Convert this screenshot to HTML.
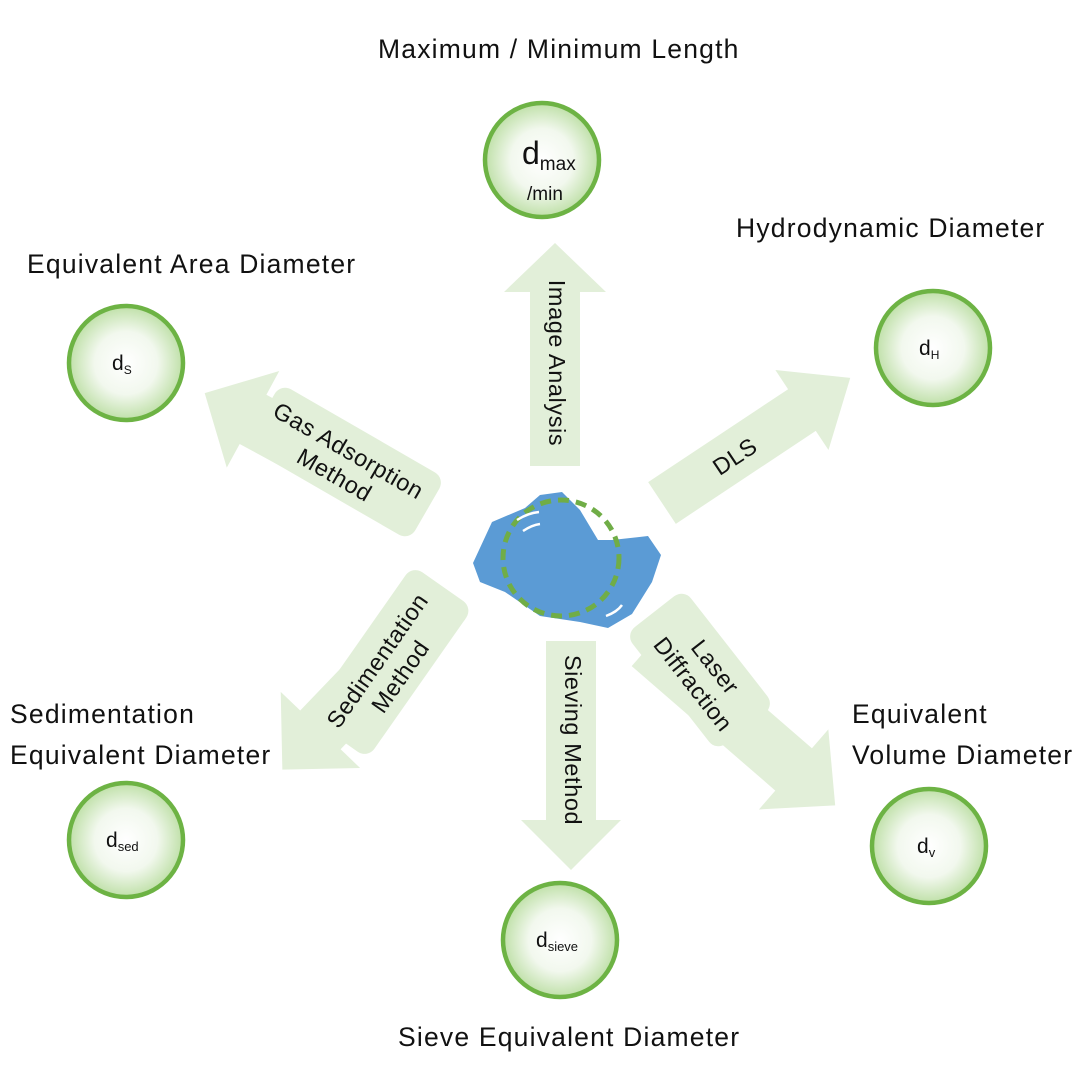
<!DOCTYPE html>
<html><head><meta charset="utf-8"><style>
html,body{margin:0;padding:0;background:#fff;}
svg{display:block;}
text{font-family:"Liberation Sans",sans-serif;fill:#111;}
</style></head><body>
<svg width="1080" height="1080" viewBox="0 0 1080 1080" xmlns="http://www.w3.org/2000/svg">
<defs>
<radialGradient id="g" cx="50%" cy="50%" r="50%">
<stop offset="0%" stop-color="#ffffff"/>
<stop offset="55%" stop-color="#f2f8ee"/>
<stop offset="100%" stop-color="#bfe0a8"/>
</radialGradient>
</defs>
<rect width="1080" height="1080" fill="#fff"/>

<g fill="#e2efd9">
<g transform="translate(555,466) rotate(-90)"><polygon points="0,-25 174,-25 174,-51 223,0 174,51 174,25 0,25"/></g>
<g transform="translate(571,641) rotate(90)"><polygon points="0,-25 179,-25 179,-50 229,0 179,50 179,25 0,25"/></g>
<g transform="translate(662,503) rotate(-33.6)"><polygon points="0,-25 168,-25 168,-48 226,0 168,48 168,25 0,25"/></g>
<g transform="translate(420,510) rotate(208.5)"><polygon points="0,-28 190,-28 190,-55 245,0 190,55 190,28 0,28"/></g>
<rect x="-95" y="-36" width="190" height="72" rx="12" transform="translate(345,462) rotate(30)"/>
<g transform="translate(445,600) rotate(133.8)"><polygon points="0,-28 180,-28 180,-55 235,0 180,55 180,28 0,28"/></g>
<rect x="-92" y="-37" width="184" height="74" rx="12" transform="translate(390,662) rotate(-55)"/>
<g transform="translate(650,645) rotate(40.9)"><polygon points="0,-28 190,-28 190,-53 245,0 190,53 190,28 0,28"/></g>
<rect x="-74" y="-37" width="148" height="74" rx="12" transform="translate(700,670) rotate(52)"/>
</g>

<g font-size="23.5" letter-spacing="0.6">
<text text-anchor="middle" dominant-baseline="middle" transform="translate(555,363) rotate(90)">Image Analysis</text>
<text text-anchor="middle" dominant-baseline="middle" transform="translate(571,740) rotate(90)">Sieving Method</text>
<text text-anchor="middle" dominant-baseline="middle" transform="translate(736,458) rotate(-33.6)">DLS</text>
<g transform="translate(342,462) rotate(30)" text-anchor="middle">
<text y="-5">Gas Adsorption</text><text y="23">Method</text></g>
<g transform="translate(388,668) rotate(-55)" text-anchor="middle">
<text y="-5">Sedimentation</text><text y="23">Method</text></g>
<g transform="translate(705,675) rotate(52)" text-anchor="middle">
<text y="-5">Laser</text><text y="23">Diffraction</text></g>
</g>

<polygon fill="#5b9bd5" points="473,563 492,522 525,508 540,495 562,492 580,510 598,540 612,540 648,536 661,555 652,582 632,614 608,628 580,622 540,616 505,592 480,582"/>
<circle cx="561" cy="558" r="58" fill="none" stroke="#70ad47" stroke-width="5" stroke-dasharray="11,7"/>
<path d="M517,520 Q528,513 539,512" stroke="#fff" stroke-width="2.5" fill="none"/>
<path d="M523,531 Q532,525 540,524" stroke="#fff" stroke-width="2.5" fill="none"/>
<path d="M606,616 Q617,612 622,605" stroke="#fff" stroke-width="2.5" fill="none"/>

<g stroke="#6db344" stroke-width="4.5" fill="url(#g)">
<circle cx="542" cy="160" r="57"/>
<circle cx="126" cy="363" r="57"/>
<circle cx="933" cy="348" r="57"/>
<circle cx="126" cy="840" r="57"/>
<circle cx="929" cy="846" r="57"/>
<circle cx="560" cy="940" r="57"/>
</g>
<g font-size="26" fill="#222">
<text x="522" y="164" font-size="32">d<tspan font-size="19" dy="6">max</tspan></text>
<text x="527" y="200" font-size="19">/min</text>
<text x="112" y="370" font-size="21">d<tspan font-size="12" dy="4">S</tspan></text>
<text x="919" y="355" font-size="21">d<tspan font-size="12" dy="4">H</tspan></text>
<text x="106" y="847" font-size="21">d<tspan font-size="13" dy="4">sed</tspan></text>
<text x="917" y="853" font-size="21">d<tspan font-size="13" dy="4">v</tspan></text>
<text x="536" y="947" font-size="21">d<tspan font-size="13" dy="4">sieve</tspan></text>
</g>

<g font-size="26.5" letter-spacing="1.2">
<text x="378" y="58">Maximum / Minimum Length</text>
<text x="736" y="237">Hydrodynamic Diameter</text>
<text x="27" y="273">Equivalent Area Diameter</text>
<text x="10" y="723">Sedimentation</text>
<text x="10" y="764">Equivalent Diameter</text>
<text x="852" y="723">Equivalent</text>
<text x="852" y="764">Volume Diameter</text>
<text x="398" y="1046">Sieve Equivalent Diameter</text>
</g>
</svg>
</body></html>
